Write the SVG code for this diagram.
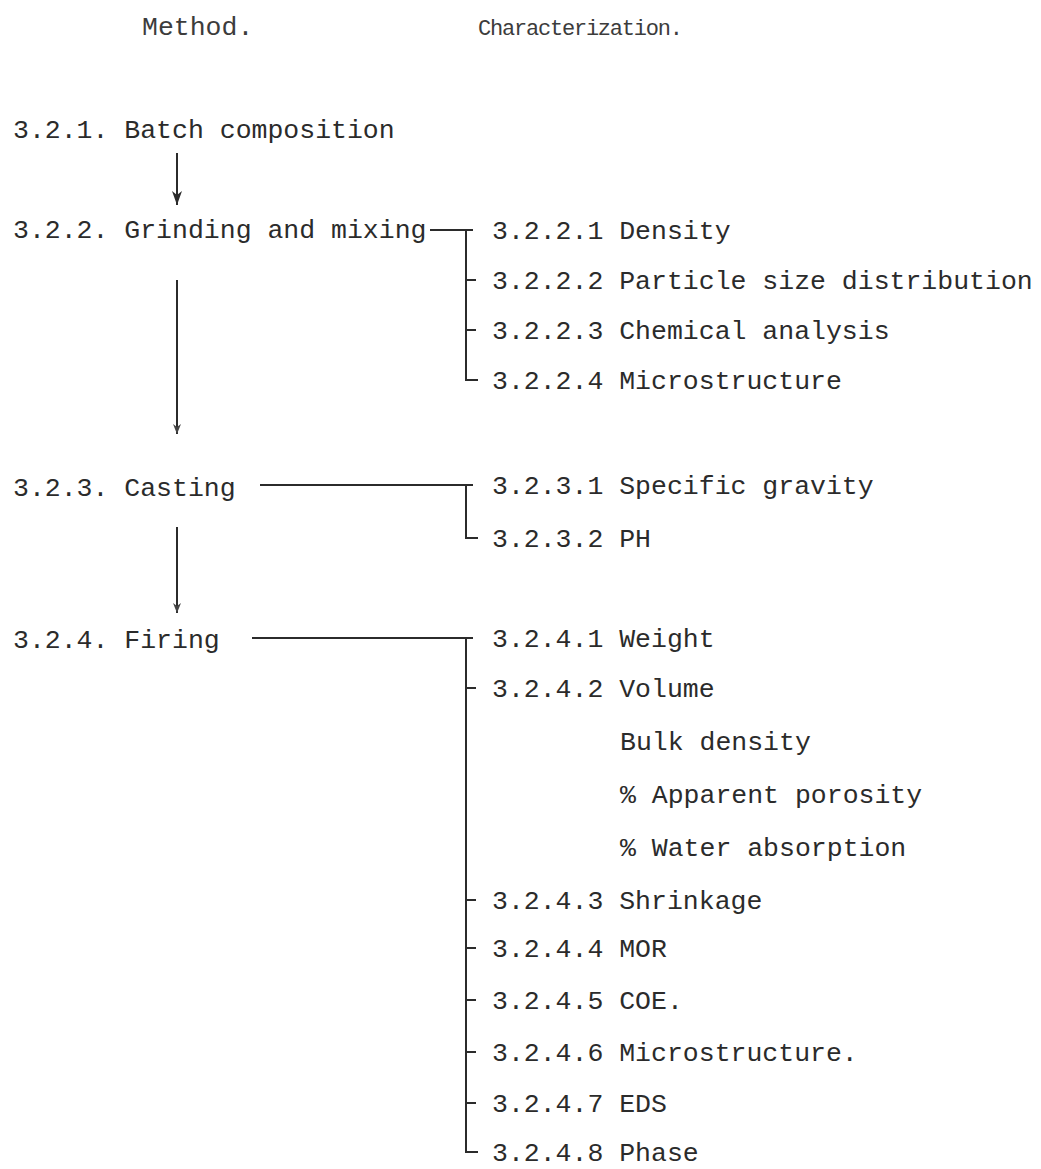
<svg xmlns="http://www.w3.org/2000/svg" width="1041" height="1169" viewBox="0 0 1041 1169">
<style>
text{font-family:"Liberation Mono","DejaVu Sans Mono",monospace;font-size:26.5px;fill:#2b2b2b}
.h{fill:#3c3c3c}
.hs{font-size:22px}
.c{stroke:#2b2b2b;stroke-width:2;fill:none}
</style>
<defs>
<marker id="ah" viewBox="0 0 14 10" refX="14" refY="5" markerWidth="14" markerHeight="10" markerUnits="userSpaceOnUse" orient="auto"><path d="M0,0 L14,5 L0,10 L4,5 z" fill="#2b2b2b"/></marker>
<marker id="ahs" viewBox="0 0 10 8" refX="10" refY="4" markerWidth="10" markerHeight="8" markerUnits="userSpaceOnUse" orient="auto"><path d="M0,0 L10,4 L0,8 L3,4 z" fill="#444"/></marker>
</defs>
<g id="headers">
<text class="h" x="142" y="35">Method.</text>
<text class="h hs" x="478" y="35" textLength="205" lengthAdjust="spacing">Characterization.</text>
</g>
<g id="n-batch"><text x="13" y="138">3.2.1. Batch composition</text></g>
<g id="n-grinding"><text x="13" y="238">3.2.2. Grinding and mixing</text></g>
<g id="n-casting"><text x="13" y="496">3.2.3. Casting</text></g>
<g id="n-firing"><text x="13" y="648">3.2.4. Firing</text></g>
<g id="c-grinding">
<text x="492" y="239">3.2.2.1 Density</text>
<text x="492" y="289">3.2.2.2 Particle size distribution</text>
<text x="492" y="339">3.2.2.3 Chemical analysis</text>
<text x="492" y="389">3.2.2.4 Microstructure</text>
</g>
<g id="c-casting">
<text x="492" y="494">3.2.3.1 Specific gravity</text>
<text x="492" y="547">3.2.3.2 PH</text>
</g>
<g id="c-firing">
<text x="492" y="647">3.2.4.1 Weight</text>
<text x="492" y="697">3.2.4.2 Volume</text>
<text x="620" y="750">Bulk density</text>
<text x="620" y="803">% Apparent porosity</text>
<text x="620" y="856">% Water absorption</text>
<text x="492" y="909">3.2.4.3 Shrinkage</text>
<text x="492" y="957">3.2.4.4 MOR</text>
<text x="492" y="1009">3.2.4.5 COE.</text>
<text x="492" y="1061">3.2.4.6 Microstructure.</text>
<text x="492" y="1112">3.2.4.7 EDS</text>
<text x="492" y="1161">3.2.4.8 Phase</text>
</g>
<g id="connectors">
<line class="c" x1="177" y1="153" x2="177" y2="205" marker-end="url(#ah)"/>
<line class="c" x1="177" y1="280" x2="177" y2="434" marker-end="url(#ahs)"/>
<line class="c" x1="177" y1="527" x2="177" y2="613" marker-end="url(#ahs)"/>
<path class="c" d="M430,230 H473 M466,230 V380 H478 M466,280 H476 M466,330 H476"/>
<path class="c" d="M260,485 H473 M466,485 V538 H478"/>
<path class="c" d="M252,638 H473 M466,638 V1152 H478 M466,688 H476 M466,900 H476 M466,948 H476 M466,1000 H476 M466,1052 H476 M466,1103 H476"/>
</g>
</svg>
